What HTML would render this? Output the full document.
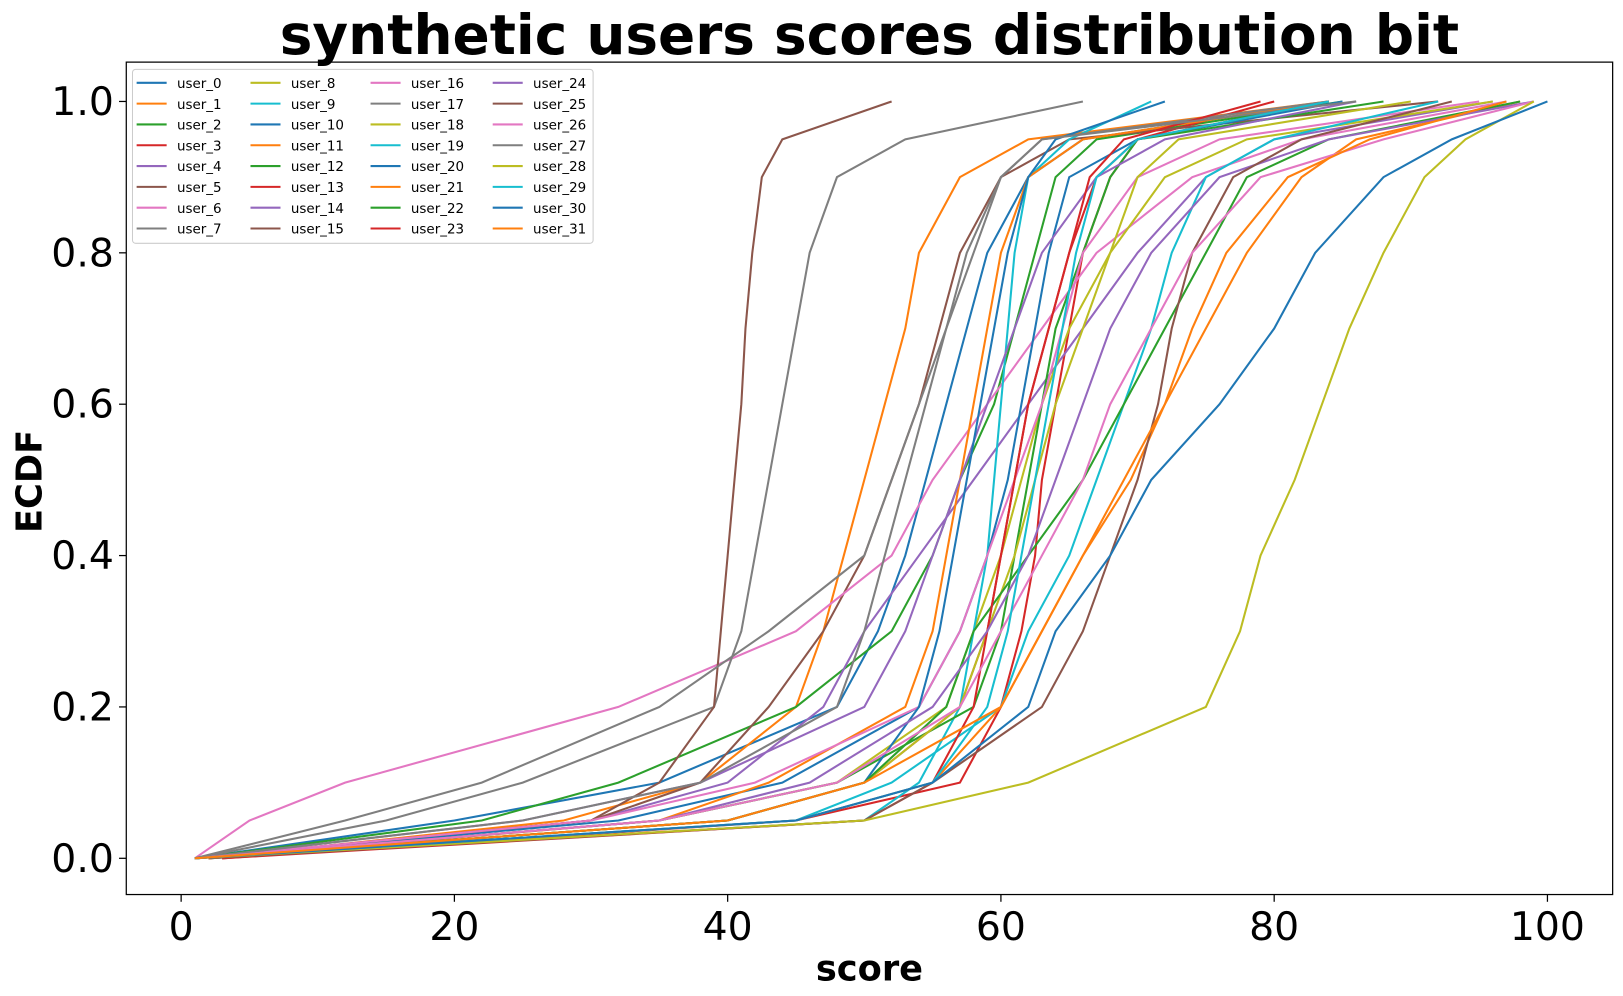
<!DOCTYPE html>
<html><head><meta charset="utf-8"><style>
body{margin:0;background:#fff;}
svg{display:block;font-family:"DejaVu Sans","Liberation Sans",sans-serif;}
</style></head><body>
<svg id="c" width="1623" height="996" viewBox="0 0 1568 962" preserveAspectRatio="none"></svg>
<script>
const levels=[0,0.05,0.1,0.2,0.3,0.4,0.5,0.6,0.7,0.8,0.9,0.95,1];
const users=["user_0","user_1","user_2","user_3","user_4","user_5","user_6","user_7","user_8","user_9","user_10","user_11","user_12","user_13","user_14","user_15","user_16","user_17","user_18","user_19","user_20","user_21","user_22","user_23","user_24","user_25","user_26","user_27","user_28","user_29","user_30","user_31"];
const u0=[1,20,35,48,51,53,54.5,56,57.5,59,62,66,84];
const u1=[2,28,38,45,47,48.5,50,51.5,53,54,57,62,84];
const u2=[1,22,32,45,52,55,57,59.5,61,62.5,64,67,85];
const u3=[3,45,57,60,61.5,62.5,63,64,65,66,68,70,80];
const u4=[2,30,40,47,50,54,58,62,66,70,75,80,96];
const u5=[2,30,38,43,47,50,52,54,55.5,57,60,65,92];
const u6=[1,5,12,32,45,52,55,59,63,67,74,82,97];
const u7=[1,15,25,39,41,42,43,44,45,46,48,53,66];
const u8=[1,35,48,56,58,60,61.5,63,65,68,72,78,96];
const u9=[2,50,54,57,58,59,59.5,60,60.5,61,62,65,71];
const u10=[1,32,44,54,57,59,60.5,61.5,62.5,63.5,65,70,85];
const u11=[2,35,43,53,55,56,57,58,59,60,62,66,84];
const u12=[1,35,48,58,60,61,62,63,64,66,68,70,88];
const u13=[1,40,50,57,59,60,61,62,63.5,65,67,70,84];
const u14=[1,25,38,50,53,55,57,59,61,63,67,72,86];
const u15=[1,30,35,39,39.5,40,40.5,41,41.3,41.8,42.5,44,52];
const u16=[1,30,42,54,57,59,61,63,64.5,66,70,76,95];
const u17=[1,25,38,48,50,51.5,53,54.5,56,57.5,60,63,84];
const u18=[1,40,50,57,59,61,62.5,64,66,68,70,73,90];
const u19=[1,45,52,60,62,65,67,69,71,72.5,75,80,92];
const u20=[1,40,50,54,55.5,56.5,57.5,58.5,59.5,60.5,62,64,72];
const u21=[2,45,55,60,63,66,69.5,72,75,78,82,86,98];
const u22=[1,40,50,56,58,62,66,69,72,75,78,84,98];
const u23=[3,50,55,58,59,60,61,62,63.5,65,66.5,69,79];
const u24=[1,35,46,55,59,62,64,66,68,71,76,84,99];
const u25=[2,50,55,63,66,68,70,71.5,72.5,74,77,82,93];
const u26=[1,35,48,57,60,63,66,68,71,74,79,88,99];
const u27=[1,12,22,35,43,50,52,54,56,58,60,63,86];
const u28=[1,50,62,75,77.5,79,81.5,83.5,85.5,88,91,94,99];
const u29=[1,45,55,59,60.5,61.5,62.5,63.5,64.5,65.5,67,70,84];
const u30=[1,45,55,62,64,68,71,76,80,83,88,93,100];
const u31=[1,40,50,60,63,66,69,72,74,76.5,81,87,97];
const series=[u0,u1,u2,u3,u4,u5,u6,u7,u8,u9,u10,u11,u12,u13,u14,u15,u16,u17,u18,u19,u20,u21,u22,u23,u24,u25,u26,u27,u28,u29,u30,u31];
const xTicks=[0,20,40,60,80,100];
const yTicks=[0.0,0.2,0.4,0.6,0.8,1.0];
const colors=["#1f77b4","#ff7f0e","#2ca02c","#d62728","#9467bd","#8c564b","#e377c2","#7f7f7f","#bcbd22","#17becf"];

const svg=document.getElementById('c');
const NS="http://www.w3.org/2000/svg";
const L=122,R=1558,T=60,B=864;
const sx=v=>175+v*13.2;
const sy=v=>829-v*731;
function mk(tag,attrs,parent){const e=document.createElementNS(NS,tag);for(const k in attrs)e.setAttribute(k,attrs[k]);(parent||svg).appendChild(e);return e;}

const title=mk('text',{x:840,y:52,'text-anchor':'middle','font-size':53,'font-weight':'bold'});


title.textContent='synthetic users scores distribution bit';

const lines=mk('g',{});


series.forEach((s,i)=>{
  const pts=s.map((v,k)=>sx(v).toFixed(1)+','+sy(levels[k]).toFixed(1));
  const p=mk('polyline',{points:pts.join(' '),fill:'none',stroke:colors[i%10],'stroke-width':2},lines);
  
  
});

const frame=mk('rect',{x:L,y:T,width:R-L,height:B-T,fill:'none',stroke:'#000','stroke-width':1.2});



xTicks.forEach(v=>{
  mk('line',{x1:sx(v),x2:sx(v),y1:B,y2:B+7,stroke:'#000','stroke-width':1.2});
  const t=mk('text',{x:sx(v),y:B+44,'text-anchor':'middle','font-size':38});
  
  
  t.textContent=v;
});
yTicks.forEach(v=>{
  mk('line',{x1:L-7,x2:L,y1:sy(v),y2:sy(v),stroke:'#000','stroke-width':1.2});
  const t=mk('text',{x:L-12,y:sy(v)+13,'text-anchor':'end','font-size':38});
  
  
  t.textContent=v.toFixed(1);
});
const xl=mk('text',{x:840,y:947,'text-anchor':'middle','font-size':34,'font-weight':'bold'});


xl.textContent='score';
const yl=mk('text',{x:0,y:0,'text-anchor':'middle','font-size':34,'font-weight':'bold',transform:'translate(40,465) rotate(-90)'});


yl.textContent='ECDF';

const leg=mk('g',{});


mk('rect',{x:128,y:67,width:445,height:168,rx:3,fill:'#fff','fill-opacity':0.8,stroke:'#ccc'},leg);
const colX=[132,242,358,476];
users.forEach((u,i)=>{
  const c=Math.floor(i/8),r=i%8;
  const y=80+r*20.1;
  const g=mk('g',{},leg);
  
  
  mk('line',{x1:colX[c],x2:colX[c]+29,y1:y,y2:y,stroke:colors[i%10],'stroke-width':2},g);
  const t=mk('text',{x:colX[c]+39,y:y+5,'font-size':13},g);
  t.textContent=u;
});
</script>
</body></html>
